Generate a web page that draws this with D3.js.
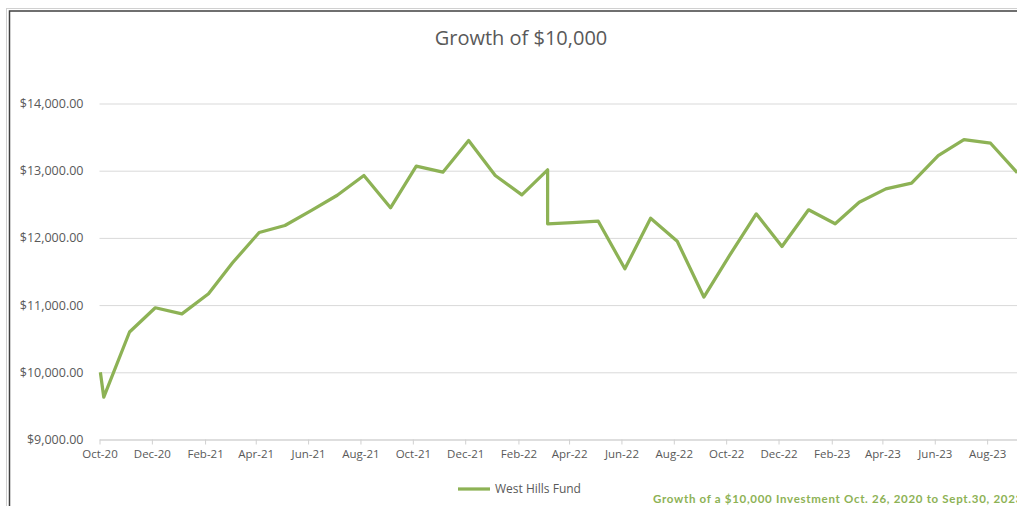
<!DOCTYPE html>
<html lang="en">
<head>
  <meta charset="UTF-8">
  <title>Growth of $10,000</title>
  <script src="https://d3js.org/d3.v7.min.js"></script>
  <style>
    body { margin: 0; background: #fff; }
    .axis text { font-family: "Open Sans", sans-serif; font-size: 11.5px; fill: #595959; }
    .y-axis text { font-size: 12.5px; }
    .title { font-family: "Open Sans", sans-serif; font-size: 20px; fill: #595959; }
    .legend { font-family: "Open Sans", sans-serif; font-size: 12px; fill: #595959; }
    .note { font-family: Lato, sans-serif; font-size: 11.5px; font-weight: bold; fill: #8db255; letter-spacing: 0.7px; }
  </style>
</head>
<body>
  <div id="chart"></div>

  <script>
    // x axis labels (every other month)
    const tickLabels = ["Oct-20", "Dec-20", "Feb-21", "Apr-21", "Jun-21", "Aug-21", "Oct-21", "Dec-21",
      "Feb-22", "Apr-22", "Jun-22", "Aug-22", "Oct-22", "Dec-22", "Feb-23", "Apr-23", "Jun-23", "Aug-23"];

    // dates of the points
    const dates = ["2020-10-02", "2020-10-06", "2020-11-05", "2020-12-05",
      "2021-01-05", "2021-02-05", "2021-03-05", "2021-04-05", "2021-05-05", "2021-06-05",
      "2021-07-05", "2021-08-05", "2021-09-05", "2021-10-05", "2021-11-05", "2021-12-05",
      "2022-01-05", "2022-02-05", "2022-03-07", "2022-03-07", "2022-04-05", "2022-05-05",
      "2022-06-05", "2022-07-05", "2022-08-05", "2022-09-05", "2022-10-05", "2022-11-05",
      "2022-12-05", "2023-01-05", "2023-02-05", "2023-03-05", "2023-04-05", "2023-05-05",
      "2023-06-05", "2023-07-05", "2023-08-05", "2023-09-05"];

    // West Hills Fund, value of $10,000
    const fundValues = [10000, 9630, 10600, 10960,
      10870, 11170, 11630, 12080, 12185, 12410,
      12635, 12928, 12448, 13067, 12978, 13449,
      12928, 12641, 13013, 12210, 12229, 12248,
      11540, 12293, 11951, 11120, 11740, 12358,
      11872, 12418, 12210, 12531, 12730, 12814,
      13226, 13464, 13409, 12970];

    const yTicks = [9000, 10000, 11000, 12000, 13000, 14000];

    const W = 1017, H = 506;
    const plotLeft = 99.5, plotW = 940;
    const plotTop = 103.5, plotBottom = 439.5;

    const parseDay = d3.timeParse("%Y-%m-%d");
    const parseMonth = d3.timeParse("%b-%y");

    const data = dates.map((d, i) => ({ date: parseDay(d), value: fundValues[i] }));

    const svg = d3.select("#chart")
      .append("svg")
      .attr("width", W)
      .attr("height", H);

    // chart border
    svg.append("rect")
      .attr("x", 6.5).attr("y", 8.5)
      .attr("width", 1200).attr("height", 600)
      .attr("fill", "none").attr("stroke", "#d0d0d0").attr("stroke-width", 1);
    svg.append("rect")
      .attr("x", 9.5).attr("y", 11)
      .attr("width", 1200).attr("height", 600)
      .attr("fill", "#fff").attr("stroke", "#404040").attr("stroke-width", 1.5);

    const x = d3.scaleTime()
      .domain([parseDay("2020-10-01"), parseDay("2023-10-01")])
      .range([plotLeft, plotLeft + plotW]);

    const y = d3.scaleLinear()
      .domain([9000, 14000])
      .range([plotBottom, plotTop]);

    // gridlines + y labels
    const yAxis = svg.append("g")
      .attr("class", "axis y-axis")
      .attr("transform", `translate(${plotLeft},0)`)
      .call(d3.axisLeft(y)
        .tickValues(yTicks)
        .tickSize(-plotW)
        .tickPadding(16)
        .tickFormat(d => "$" + d3.format(",.2f")(d)));
    yAxis.select(".domain").remove();
    yAxis.selectAll(".tick line").attr("stroke", "#d9d9d9");

    // x axis
    const xAxis = svg.append("g")
      .attr("class", "axis")
      .attr("transform", `translate(0,${plotBottom})`)
      .call(d3.axisBottom(x)
        .tickValues(tickLabels.map(parseMonth))
        .tickSizeInner(5)
        .tickSizeOuter(0)
        .tickPadding(5)
        .tickFormat(d3.timeFormat("%b-%y")));
    xAxis.select(".domain").attr("stroke", "#d0d0d0");
    xAxis.selectAll(".tick line").attr("stroke", "#d0d0d0");

    // fund line
    const line = d3.line()
      .x(d => x(d.date))
      .y(d => y(d.value));

    svg.append("path")
      .datum(data)
      .attr("fill", "none")
      .attr("stroke", "#8db255")
      .attr("stroke-width", 3.25)
      .attr("stroke-linejoin", "round")
      .attr("d", line);

    // title
    svg.append("text")
      .attr("class", "title")
      .attr("x", 521)
      .attr("y", 45)
      .attr("text-anchor", "middle")
      .text("Growth of $10,000");

    // legend
    svg.append("line")
      .attr("x1", 458).attr("x2", 490)
      .attr("y1", 489).attr("y2", 489)
      .attr("stroke", "#8db255").attr("stroke-width", 3.25);
    svg.append("text")
      .attr("class", "legend")
      .attr("x", 495)
      .attr("y", 493)
      .text("West Hills Fund");

    // footnote
    svg.append("text")
      .attr("class", "note")
      .attr("x", 653)
      .attr("y", 503)
      .text("Growth of a $10,000 Investment Oct. 26, 2020 to Sept.30, 2023");
  </script>
</body>
</html>
